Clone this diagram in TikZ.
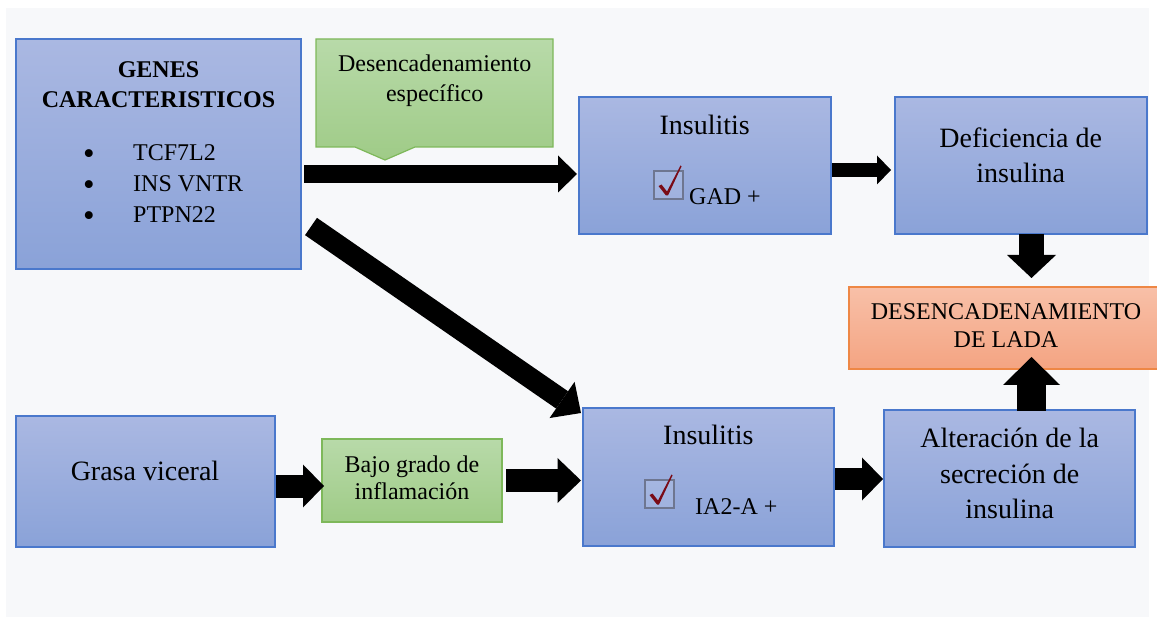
\documentclass[tikz,border=0pt]{standalone}
\usepackage{fontspec}
\setmainfont{Liberation Serif}
\usetikzlibrary{arrows.meta}
\definecolor{bgpanel}{HTML}{F7F8FA}
\definecolor{bluetop}{HTML}{AAB8E2}
\definecolor{bluebot}{HTML}{8AA2D8}
\definecolor{blueline}{HTML}{4A78CC}
\definecolor{greentop}{HTML}{B8DAA9}
\definecolor{greenbot}{HTML}{9FCB87}
\definecolor{greenline}{HTML}{7EB85A}
\definecolor{orangetop}{HTML}{F8C0A8}
\definecolor{orangebot}{HTML}{F4A482}
\definecolor{orangeline}{HTML}{EE8745}
\definecolor{checkred}{HTML}{7A0B16}
\definecolor{checkframe}{HTML}{6E7690}
\begin{document}
\begin{tikzpicture}[x=1pt,y=-1pt,
  bluebox/.style 2 args={draw=blueline, line width=1.2pt, top color=bluetop, bottom color=bluebot,
    inner sep=0pt, outer sep=0pt, minimum width=#1pt, minimum height=#2pt},
  greenbox/.style 2 args={draw=greenline, line width=1.2pt, top color=greentop, bottom color=greenbot,
    inner sep=0pt, outer sep=0pt, minimum width=#1pt, minimum height=#2pt},
  orangebox/.style 2 args={draw=orangeline, line width=1.2pt, top color=orangetop, bottom color=orangebot,
    inner sep=0pt, outer sep=0pt, minimum width=#1pt, minimum height=#2pt},
  txt/.style={inner sep=0pt, anchor=base, font=\fontsize{24}{28}\selectfont},
  bigtxt/.style={inner sep=0pt, anchor=base, font=\fontsize{28}{34}\selectfont},
  bullettxt/.style={inner sep=0pt, anchor=base, font=\fontsize{33}{36}\selectfont},
  barrow/.style n args={3}{draw=black, line width=#1pt,
    -{Triangle[length=#3pt, width=#2pt, line width=0pt]}},
  checkpic/.pic={
    \draw[checkframe, line width=1.2pt, fill=white, fill opacity=0.12] (0,0) rectangle (29,28);
    \fill[checkred] (4.5,15) -- (7.5,13.5) -- (13,20.5) -- (26.5,-5.5) -- (27.5,-4.5)
      -- (14,24.5) -- (12,24.5) -- cycle;
  }
]
\useasboundingbox (0,0) rectangle (1157,617);
\fill[white] (0,0) rectangle (1157,617);
\fill[bgpanel] (6,8) rectangle (1149,617);

% boxes
\node[bluebox={285}{230}] (genes) at (158.5,154) {};
\node[bluebox={252}{137}] (ins1) at (705,165.5) {};
\node[bluebox={252}{137}] (defi) at (1021,165.5) {};
\node[orangebox={309}{82}] (lada) at (1003.5,328) {};
\node[bluebox={251}{138}] (ins2) at (708.5,477) {};
\node[bluebox={251}{137}] (alter) at (1009.5,478.5) {};
\node[bluebox={259}{131}] (grasa) at (145.5,481.5) {};
\node[greenbox={180}{83}] (bajo) at (412,480.5) {};

% callout
\path[draw=greenline, line width=1.2pt, top color=greentop, bottom color=greenbot]
  (316,39) -- (553,39) -- (553,147) -- (415,147) -- (385,160) -- (355,147) -- (316,147) -- cycle;

% texts
\node[txt, font=\fontsize{24}{28}\selectfont\bfseries] (g1) at (158.5,78) {GENES};
\node[txt, font=\fontsize{24}{28}\selectfont\bfseries] (g2) at (158.5,108) {CARACTERISTICOS};
\node[bullettxt] (b1) at (89,165) {•};
\node[bullettxt] (b2) at (89,196) {•};
\node[bullettxt] (b3) at (89,227) {•};
\node[txt, anchor=base west] (i1) at (133,161) {TCF7L2};
\node[txt, anchor=base west] (i2) at (133,192) {INS VNTR};
\node[txt, anchor=base west] (i3) at (133,223) {PTPN22};

\node[txt] (d1) at (434.7,72) {Desencadenamiento};
\node[txt] (d2) at (434.7,102) {específico};

\node[bigtxt] (t1) at (704.7,135) {Insulitis};
\pic at (654,171) {checkpic};
\node[txt, anchor=base west] (gad) at (689,205) {GAD +};

\node[bigtxt] (df1) at (1020.7,148) {Deficiencia de};
\node[bigtxt] (df2) at (1020.7,183) {insulina};

\node[txt] (l1) at (1006,320) {DESENCADENAMIENTO};
\node[txt] (l2) at (1006,348) {DE LADA};

\node[bigtxt] (t2) at (708.3,445) {Insulitis};
\pic at (645,480) {checkpic};
\node[txt, anchor=base west] (ia2) at (695,514) {IA2-A +};

\node[bigtxt] (a1) at (1009.7,447) {Alteración de la};
\node[bigtxt] (a2) at (1009.7,483) {secreción de};
\node[bigtxt] (a3) at (1009.7,518) {insulina};

\node[bigtxt] (gv) at (145,480) {Grasa viceral};

\node[txt] (bg1) at (412,472) {Bajo grado de};
\node[txt] (bg2) at (412,500) {inflamación};

% block arrows
\draw[barrow={18}{37}{19}, shorten <=3pt, shorten >=2pt] (genes.east |- 0,174) -- (ins1.west |- 0,174);
\draw[barrow={14}{29}{14}, shorten <=1pt, shorten >=4pt] (ins1.east |- 0,170) -- (defi.west |- 0,170);
\draw[barrow={25}{49}{23}, shorten >=9pt] (defi.south -| 1031.5,0) -- (lada.north -| 1031.5,0);
\draw[barrow={29}{57}{28}, shorten <=-1pt, shorten >=-12pt] (alter.north -| 1031.5,0) -- (lada.south -| 1031.5,0);
\draw[barrow={22}{43}{21}, shorten <=1pt, shorten >=1pt] (ins2.east |- 0,479) -- (alter.west |- 0,479);
\draw[barrow={23}{43}{21}, shorten <=1pt, shorten >=-2pt] (grasa.east |- 0,486) -- (bajo.west |- 0,486);
\draw[barrow={23}{45}{23.5}, shorten <=4pt, shorten >=2pt] (bajo.east |- 0,480.5) -- (ins2.west |- 0,480.5);
\draw[barrow={21}{44}{23}] ([xshift=10pt, yshift=42.5pt]genes.south east) -- ([xshift=-2pt, yshift=-5pt]ins2.north west);
\end{tikzpicture}
\end{document}
